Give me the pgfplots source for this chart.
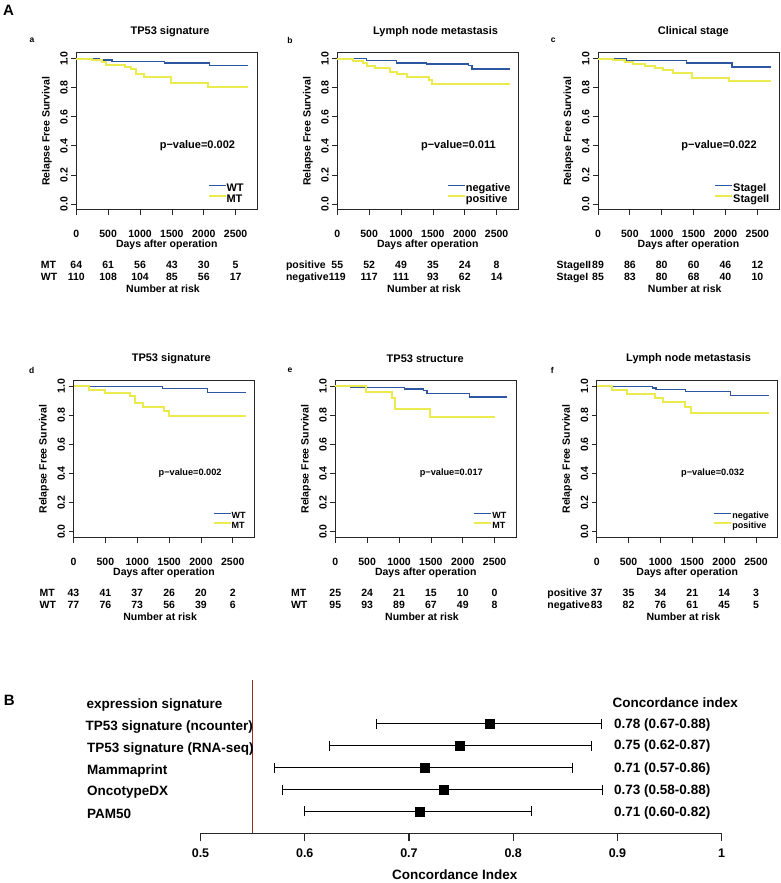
\documentclass[border=0pt]{standalone}
\usepackage{fontspec}
\setmainfont{Liberation Sans}
\usepackage{pgfplots}
\pgfplotsset{compat=1.18}
\definecolor{kmblue}{RGB}{44,87,160}
\definecolor{kmyellow}{RGB}{235,235,80}
\definecolor{refred}{RGB}{150,45,45}
\newcommand\fa{\fontsize{10.5}{12}\selectfont}
\newcommand\ft{\fontsize{11}{13}\selectfont}
\newcommand\fpa{\fontsize{11}{13}\selectfont}
\newcommand\fpb{\fontsize{9.2}{11}\selectfont}
\newcommand\flt{\fontsize{11}{11}\selectfont}
\newcommand\flb{\fontsize{9}{9}\selectfont}
\newcommand\fd{\fontsize{13.5}{15}\selectfont}
\newcommand\fdt{\fontsize{12.5}{14}\selectfont}
\newcommand\riskrow[7]{%
  \node[anchor=base,font=\fa] at (axis cs:0,#1) {#2};
  \node[anchor=base,font=\fa] at (axis cs:500,#1) {#3};
  \node[anchor=base,font=\fa] at (axis cs:1000,#1) {#4};
  \node[anchor=base,font=\fa] at (axis cs:1500,#1) {#5};
  \node[anchor=base,font=\fa] at (axis cs:2000,#1) {#6};
  \node[anchor=base,font=\fa] at (axis cs:2500,#1) {#7};
}
\newcommand\kmtitle[2]{\node[font=\ft] at (axis description cs:#1,1.137) {#2};}
\pgfplotsset{
  km/.style={
    scale only axis, width=181pt, height=157pt,
    xmin=0, xmax=2840, ymin=-0.04, ymax=1.04,
    xtick={0,500,1000,1500,2000,2500},
    ytick={0,0.2,0.4,0.6,0.8,1},
    tick pos=left, tick align=outside, major tick length=5pt,
    axis line style={line width=0.8pt, black!85},
    every tick/.style={line width=0.8pt, black!85},
    clip=false,
    /pgf/number format/assume math mode=true,
    scaled ticks=false,
    x tick label style={/pgf/number format/1000 sep={}, font=\fa, yshift=-12pt},
    y tick label style={/pgf/number format/fixed, /pgf/number format/fixed zerofill,
      /pgf/number format/precision=1, rotate=90, anchor=south, font=\fa, yshift=0pt},
    xlabel={Days after operation}, ylabel={Relapse Free Survival},
    xlabel style={at={(axis description cs:0.5,-0.224)}, anchor=center, font=\fa},
    ylabel style={at={(axis description cs:-0.163,0.5)}, anchor=center, font=\fa},
    legend cell align=left,
    legend style={draw=none, fill=none, inner sep=0pt, anchor=west, row sep=0pt,
      nodes={inner sep=0pt, text height=7.6pt, text depth=3.2pt},
      /tikz/every even column/.append style={column sep=5pt}},
    legend image code/.code={\draw[#1] (0pt,0.35em) -- (17pt,0.35em);},
  },
  bl/.style={const plot, color=kmblue, line width=1.2pt, mark=none},
  yl/.style={const plot, color=kmyellow, line width=2pt, mark=none},
}
\begin{document}
\bfseries
\begin{tikzpicture}
\path[use as bounding box] (0,0) rectangle (780pt,-883pt);
\node[font=\fontsize{15}{15}\selectfont] at (8.5pt,-10pt) {A};
\node[font=\fontsize{15}{15}\selectfont] at (9.2pt,-700.5pt) {B};
\node[font=\fontsize{8.5}{9}\selectfont] at (32pt,-40pt) {a};
\node[font=\fontsize{8.5}{9}\selectfont] at (290pt,-40pt) {b};
\node[font=\fontsize{8.5}{9}\selectfont] at (553.3pt,-40pt) {c};
\node[font=\fontsize{8.5}{9}\selectfont] at (31.7pt,-370pt) {d};
\node[font=\fontsize{8.5}{9}\selectfont] at (290pt,-370pt) {e};
\node[font=\fontsize{8.5}{9}\selectfont] at (552.3pt,-370pt) {f};

% ---------- a ----------
\begin{axis}[km, at={(76.3pt,-209.8pt)}, anchor=south west,
  legend style={at={(axis description cs:0.724,0.097)}, font=\flt}]
\addplot[bl] coordinates {(0,1) (370,0.991) (560,0.982) (1390,0.970) (2095,0.950) (2700,0.950)};
\addplot[yl] coordinates {(0,1) (240,0.988) (400,0.977) (460,0.954) (770,0.942) (860,0.927) (930,0.892) (1060,0.874) (1480,0.835) (2060,0.803) (2700,0.803)};
\legend{WT,MT}
\kmtitle{0.518}{TP53 signature}
\node[font=\fpa] at (axis cs:1900,0.40) {p−value=0.002};
\riskrow{-0.445}{64}{61}{56}{43}{30}{5}
\riskrow{-0.527}{110}{108}{104}{85}{56}{17}
\node[anchor=base west,font=\fa] at (axis cs:-610,-0.445) {MT};
\node[anchor=base west,font=\fa] at (axis cs:-610,-0.527) {WT};
\node[anchor=base,font=\fa] at (axis cs:1360,-0.609) {Number at risk};
\end{axis}

% ---------- b ----------
\begin{axis}[km, at={(337.3pt,-209.8pt)}, anchor=south west,
  legend style={at={(axis description cs:0.604,0.097)}, font=\flt}]
\addplot[bl] coordinates {(0,1) (462,0.986) (934,0.970) (1394,0.963) (2060,0.952) (2113,0.929) (2710,0.929)};
\addplot[yl] coordinates {(0,1) (252,0.984) (409,0.968) (472,0.947) (593,0.933) (828,0.911) (934,0.892) (1091,0.876) (1431,0.853) (1484,0.826) (2710,0.826)};
\legend{negative,positive}
\kmtitle{0.543}{Lymph node metastasis}
\node[font=\fpa] at (axis cs:1900,0.40) {p−value=0.011};
\riskrow{-0.445}{55}{52}{49}{35}{24}{8}
\riskrow{-0.527}{119}{117}{111}{93}{62}{14}
\node[anchor=base west,font=\fa] at (axis cs:-860,-0.445) {positive};
\node[anchor=base west,font=\fa] at (axis cs:-860,-0.527) {negative};
\node[anchor=base,font=\fa] at (axis cs:1360,-0.609) {Number at risk};
\end{axis}

% ---------- c ----------
\begin{axis}[km, at={(598pt,-209.8pt)}, anchor=south west,
  legend style={at={(axis description cs:0.641,0.097)}, font=\flt}]
\addplot[bl] coordinates {(0,1) (451,0.986) (1383,0.970) (2101,0.942) (2710,0.942)};
\addplot[yl] coordinates {(0,1) (241,0.988) (424,0.979) (555,0.963) (739,0.949) (896,0.933) (1027,0.920) (1184,0.899) (1473,0.870) (2048,0.849) (2710,0.849)};
\legend{StageI,StageII}
\kmtitle{0.527}{Clinical stage}
\node[font=\fpa] at (axis cs:1900,0.40) {p−value=0.022};
\riskrow{-0.445}{89}{86}{80}{60}{46}{12}
\riskrow{-0.527}{85}{83}{80}{68}{40}{10}
\node[anchor=base west,font=\fa] at (axis cs:-704,-0.445) {StageII};
\node[anchor=base west,font=\fa] at (axis cs:-704,-0.527) {StageI};
\node[anchor=base,font=\fa] at (axis cs:1360,-0.609) {Number at risk};
\end{axis}

% ---------- d ----------
\begin{axis}[km, at={(73.5pt,-537.5pt)}, anchor=south west,
  legend style={at={(axis description cs:0.767,0.099)}, font=\flb,
    nodes={text height=7pt, text depth=3pt}}]
\addplot[bl] coordinates {(0,1) (1400,0.984) (2100,0.958) (2700,0.958)};
\addplot[yl] coordinates {(0,1) (248,0.977) (490,0.954) (880,0.931) (958,0.885) (1087,0.857) (1423,0.832) (1501,0.798) (2700,0.798)};
\legend{WT,MT}
\kmtitle{0.54}{TP53 signature}
\node[font=\fpb] at (axis cs:1830,0.40) {p−value=0.002};
\riskrow{-0.445}{43}{41}{37}{26}{20}{2}
\riskrow{-0.527}{77}{76}{73}{56}{39}{6}
\node[anchor=base west,font=\fa] at (axis cs:-587,-0.445) {MT};
\node[anchor=base west,font=\fa] at (axis cs:-587,-0.527) {WT};
\node[anchor=base,font=\fa] at (axis cs:1360,-0.609) {Number at risk};
\end{axis}

% ---------- e ----------
\begin{axis}[km, at={(335.3pt,-537.5pt)}, anchor=south west,
  legend style={at={(axis description cs:0.762,0.099)}, font=\flb,
    nodes={text height=7pt, text depth=3pt}}]
\addplot[bl] coordinates {(0,1) (240,0.991) (1080,0.981) (1390,0.972) (1440,0.950) (2100,0.926) (2700,0.926)};
\addplot[yl] coordinates {(0,1) (485,0.960) (882,0.920) (934,0.844) (1493,0.789) (2500,0.789)};
\legend{WT,MT}
\kmtitle{0.497}{TP53 structure}
\node[font=\fpb] at (axis cs:1820,0.40) {p−value=0.017};
\riskrow{-0.445}{25}{24}{21}{15}{10}{0}
\riskrow{-0.527}{95}{93}{89}{67}{49}{8}
\node[anchor=base west,font=\fa] at (axis cs:-750,-0.445) {MT};
\node[anchor=base west,font=\fa] at (axis cs:-750,-0.527) {WT};
\node[anchor=base,font=\fa] at (axis cs:1360,-0.609) {Number at risk};
\end{axis}

% ---------- f ----------
\begin{axis}[km, at={(596.7pt,-537.5pt)}, anchor=south west,
  legend style={at={(axis description cs:0.644,0.099)}, font=\flb,
    nodes={text height=7pt, text depth=3pt}}]
\addplot[bl] coordinates {(0,1) (870,0.988) (930,0.976) (1390,0.964) (2100,0.936) (2700,0.936)};
\addplot[yl] coordinates {(0,1) (235,0.973) (471,0.946) (915,0.919) (1046,0.890) (1386,0.855) (1475,0.816) (2700,0.816)};
\legend{negative,positive}
\kmtitle{0.508}{Lymph node metastasis}
\node[font=\fpb] at (axis cs:1820,0.40) {p−value=0.032};
\riskrow{-0.445}{37}{35}{34}{21}{14}{3}
\riskrow{-0.527}{83}{82}{76}{61}{45}{5}
\node[anchor=base west,font=\fa] at (axis cs:-830,-0.445) {positive};
\node[anchor=base west,font=\fa] at (axis cs:-830,-0.527) {negative};
\node[anchor=base,font=\fa] at (axis cs:1360,-0.609) {Number at risk};
\end{axis}

% ---------- B: forest plot ----------
\begin{axis}[at={(200.5pt,-833.3pt)}, anchor=south west,
  scale only axis, width=521.2pt, height=157.7pt,
  xmin=0.5, xmax=1, ymin=0, ymax=7.2,
  axis x line=bottom, axis y line=none,
  x axis line style={-, line width=1.2pt, black!85},
  every tick/.style={line width=1.2pt, black!85},
  tick align=outside, major tick length=8pt,
  xtick={0.5,0.6,0.7,0.8,0.9,1},
  xticklabels={0.5,0.6,0.7,0.8,0.9,1},
  x tick label style={font=\fdt, yshift=-4pt},
  xlabel={Concordance Index},
  xlabel style={at={(axis description cs:0.488,-0.264)}, anchor=center, font=\fd},
  clip=false]
\addplot[refred, line width=1.3pt] coordinates {(0.55,0) (0.55,7.0)};
\addplot[black, only marks, mark=square*, mark size=4.5pt,
  error bars/.cd, x dir=both, x explicit, error mark=|,
  error bar style={line width=1pt, black},
  error mark options={black, line width=1pt, mark size=5pt}]
  table[x=est, y=row, x error plus=ep, x error minus=em] {
  row est ep em
  5 0.777 0.108 0.108
  4 0.749 0.126 0.125
  3 0.715 0.142 0.144
  2 0.733 0.153 0.154
  1 0.710 0.108 0.110
};
\node[anchor=base west,font=\fd] at (axis cs:0.3873,5.68) {expression signature};
\node[anchor=base west,font=\fd] at (axis cs:0.3863,4.69) {TP53 signature (ncounter)};
\node[anchor=base west,font=\fd] at (axis cs:0.3879,3.685) {TP53 signature (RNA-seq)};
\node[anchor=base west,font=\fd] at (axis cs:0.3879,2.70) {Mammaprint};
\node[anchor=base west,font=\fd] at (axis cs:0.3879,1.71) {OncotypeDX};
\node[anchor=base west,font=\fd] at (axis cs:0.3879,0.69) {PAM50};
\node[anchor=base west,font=\fd] at (axis cs:0.8919,5.76) {Concordance index};
\node[anchor=base west,font=\fd] at (axis cs:0.8935,4.80) {0.78 (0.67-0.88)};
\node[anchor=base west,font=\fd] at (axis cs:0.8935,3.81) {0.75 (0.62-0.87)};
\node[anchor=base west,font=\fd] at (axis cs:0.8935,2.79) {0.71 (0.57-0.86)};
\node[anchor=base west,font=\fd] at (axis cs:0.8935,1.785) {0.73 (0.58-0.88)};
\node[anchor=base west,font=\fd] at (axis cs:0.8935,0.79) {0.71 (0.60-0.82)};
\end{axis}
\end{tikzpicture}
\end{document}
